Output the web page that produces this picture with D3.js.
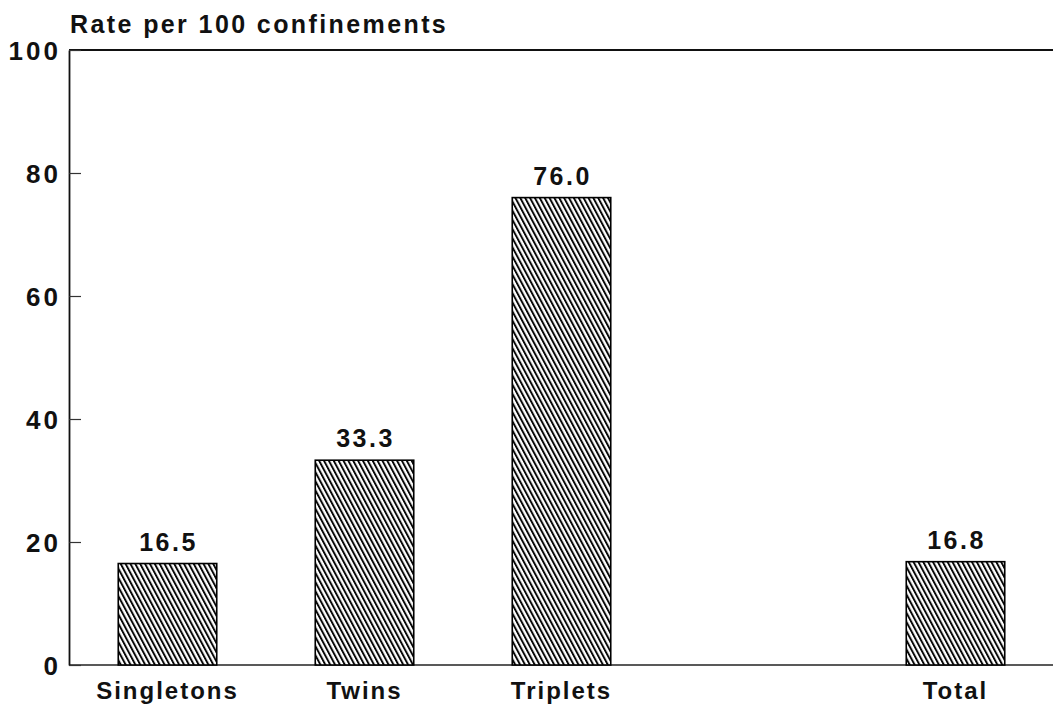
<!DOCTYPE html>
<html>
<head>
<meta charset="utf-8">
<script src="https://d3js.org/d3.v7.min.js"></script>
<style>
  body { margin: 0; background: #fff; }
  svg text { font-family: "Liberation Sans", Arial, sans-serif; font-weight: bold; fill: #111; }
</style>
</head>
<body>
<svg width="1053" height="713"></svg>
<script>
// data
var categories = ["Singletons", "Twins", "Triplets", "Total"];
var values = [16.5, 33.3, 76.0, 16.8];
var slots = ["Singletons", "Twins", "Triplets", "gap", "Total"]; // empty slot before Total
var yTicks = [0, 20, 40, 60, 80, 100];
var yTitle = "Rate per 100 confinements";

var data = categories.map((c, i) => ({ name: c, value: values[i] }));

var svg = d3.select("svg");
var plotL = 69, plotR = 1054, plotT = 50, plotB = 665;

var x = d3.scaleBand().domain(slots).range([plotL, plotR])
    .paddingInner(0.5).paddingOuter(0.25);
var y = d3.scaleLinear().domain([0, 100]).range([plotB, plotT]);

// hatch pattern
var defs = svg.append("defs");
var pat = defs.append("pattern")
    .attr("id", "hatch")
    .attr("patternUnits", "userSpaceOnUse")
    .attr("width", 4.3).attr("height", 10)
    .attr("patternTransform", "rotate(-28)");
pat.append("rect").attr("width", 4.3).attr("height", 10).attr("fill", "#fff");
pat.append("line")
    .attr("x1", 1).attr("y1", 0).attr("x2", 1).attr("y2", 10)
    .attr("stroke", "#000").attr("stroke-width", 1.9);

// frame lines
svg.append("line")
    .attr("x1", plotL).attr("x2", 1053).attr("y1", y(100)).attr("y2", y(100))
    .attr("stroke", "#111").attr("stroke-width", 1.8);
svg.append("line")
    .attr("x1", plotL).attr("x2", 1053).attr("y1", y(0)).attr("y2", y(0))
    .attr("stroke", "#222").attr("stroke-width", 1.5);

// y axis, ticks pointing inward
var yAxis = svg.append("g")
    .attr("transform", "translate(" + plotL + ",0)")
    .call(d3.axisRight(y).tickValues(yTicks).tickSize(12).tickSizeOuter(0).tickFormat(d3.format("d")));
yAxis.select(".domain").attr("stroke", "#111").attr("stroke-width", 1.8);
yAxis.selectAll(".tick line").attr("stroke", "#333").attr("stroke-width", 1.2);
yAxis.selectAll(".tick text")
    .attr("x", -8).attr("dy", "0.36em")
    .attr("text-anchor", "end")
    .style("font-size", "26px")
    .style("letter-spacing", "3px");

// title
svg.append("text")
    .attr("x", 70).attr("y", 33)
    .style("font-size", "25px")
    .style("letter-spacing", "2.4px")
    .text(yTitle);

// bars
svg.append("g").selectAll("rect")
    .data(data).join("rect")
    .attr("x", d => x(d.name))
    .attr("width", x.bandwidth())
    .attr("y", d => y(d.value))
    .attr("height", d => y(0) - y(d.value))
    .attr("fill", "url(#hatch)")
    .attr("stroke", "#000")
    .attr("stroke-width", 1.6);

// value labels
svg.append("g").selectAll("text")
    .data(data).join("text")
    .attr("x", d => x(d.name) + x.bandwidth() / 2 + 1)
    .attr("y", d => y(d.value) - 13)
    .attr("text-anchor", "middle")
    .style("font-size", "25px")
    .style("letter-spacing", "2.5px")
    .text(d => d.value.toFixed(1));

// category labels
svg.append("g").selectAll("text")
    .data(data).join("text")
    .attr("x", d => x(d.name) + x.bandwidth() / 2)
    .attr("y", 699)
    .attr("text-anchor", "middle")
    .style("font-size", "24px")
    .style("letter-spacing", "2px")
    .text(d => d.name);
</script>
</body>
</html>
